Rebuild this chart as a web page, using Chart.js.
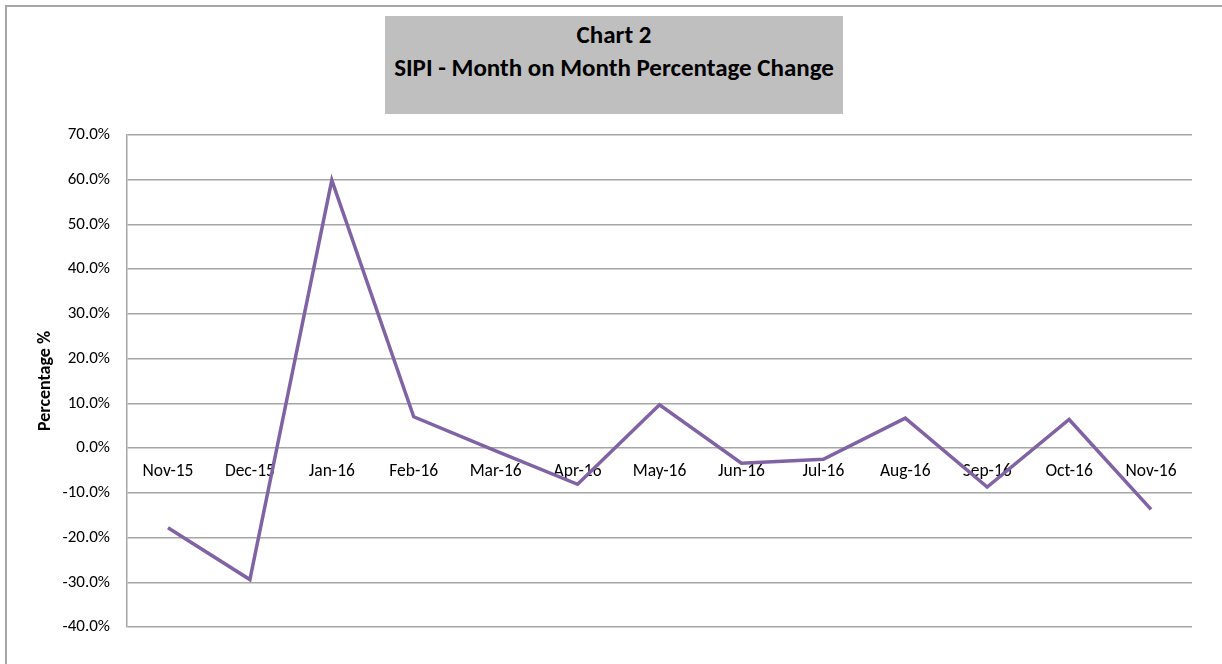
<!DOCTYPE html>
<html>
<head>
<meta charset="utf-8">
<script src="https://cdn.jsdelivr.net/npm/chart.js@4"></script>
<style>
  html, body { margin: 0; padding: 0; background: #fff; }
  #wrap { position: relative; width: 1222px; height: 664px; }
  #frame { position: absolute; left: 5px; top: 5px; width: 1240px; height: 700px; border-left: 2px solid #a6a6a6; border-top: 2px solid #a6a6a6; }
  #titleBox { position: absolute; left: 385px; top: 16px; width: 458px; height: 98px; background: #bfbfbf;
    font-family: Carlito, Calibri, Lato, sans-serif; font-weight: bold; font-size: 25px; color: #000;
    text-align: center; line-height: 33px; padding-top: 2px; box-sizing: border-box; }
  canvas { position: absolute; left: 0; top: 0; }
</style>
</head>
<body>
<div id="wrap">
  <div id="frame"></div>
  <div id="titleBox">Chart 2<br>SIPI - Month on Month Percentage Change</div>
  <canvas id="sipiChart" width="1222" height="664"></canvas>
</div>
<script>
const months = ['Nov-15', 'Dec-15', 'Jan-16', 'Feb-16', 'Mar-16', 'Apr-16', 'May-16',
  'Jun-16', 'Jul-16', 'Aug-16', 'Sep-16', 'Oct-16', 'Nov-16'];
const momChange = [-17.8, -29.4, 59.9, 7.0, -0.6, -8.1, 9.7, -3.4, -2.5, 6.7, -8.7, 6.4, -13.7];
const yMin = -40;
const yMax = 70;
const yStep = 10;

document.addEventListener('DOMContentLoaded', function () {
  const ctx = document.getElementById('sipiChart');
  const font = 'Carlito, Calibri, Lato, sans-serif';
  new Chart(ctx, {
    type: 'line',
    data: {
      labels: months,
      datasets: [{
        label: 'SIPI',
        data: momChange,
        borderColor: '#7f63a3',
        borderWidth: 3.5,
        pointRadius: 0,
        tension: 0,
        fill: false
      }]
    },
    options: {
      responsive: false,
      animation: false,
      layout: { padding: { left: 0, top: 135, right: 30, bottom: 37 } },
      plugins: {
        legend: { display: false },
        title: { display: false },
        tooltip: { enabled: false }
      },
      scales: {
        x: {
          position: { y: 0 },
          offset: true,
          grid: { display: false, drawTicks: false },
          border: { display: false },
          ticks: { color: '#000', font: { family: font, size: 17.5 }, padding: 13, maxRotation: 0, autoSkip: false }
        },
        y: {
          min: yMin,
          max: yMax,
          afterFit: function (scale) { scale.width = 127; },
          grid: { color: '#a6a6a6', lineWidth: 1.5, drawTicks: false },
          border: { color: '#a6a6a6', width: 1.5 },
          ticks: {
            stepSize: yStep,
            color: '#000',
            padding: 17,
            font: { family: font, size: 17 },
            callback: function (v) { return v.toFixed(1) + '%'; }
          },
          title: {
            display: true,
            text: 'Percentage %',
            color: '#000',
            font: { family: font, size: 18, weight: 'bold' },
            padding: { top: 35, bottom: 0 }
          }
        }
      }
    }
  });
});
</script>
</body>
</html>
